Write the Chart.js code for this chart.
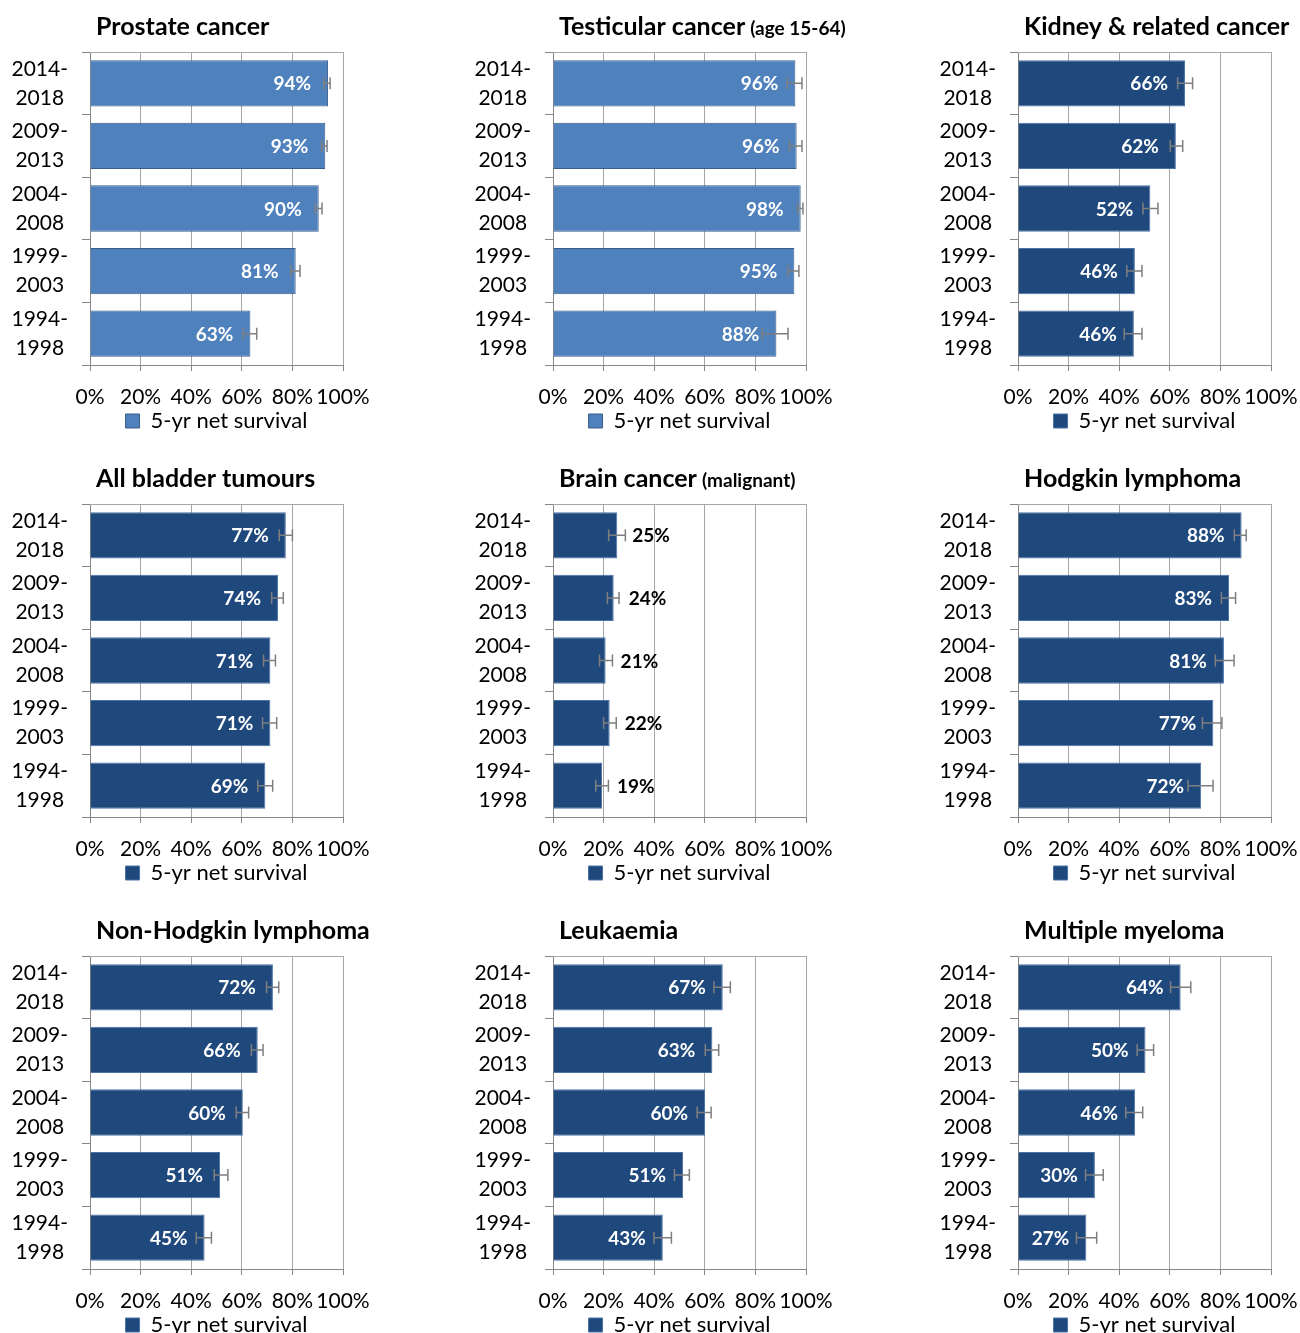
<!DOCTYPE html>
<html>
<head>
<meta charset="utf-8">
<script src="https://cdn.jsdelivr.net/npm/chart.js@4.4.1/dist/chart.umd.min.js"></script>
<style>
  html, body { margin: 0; padding: 0; background: #fff; overflow: hidden; }
  #wrap { position: relative; width: 1300px; height: 1333px; overflow: hidden; }
  .panel { position: absolute; }
</style>
</head>
<body>
<div id="wrap"></div>
<script>
// periods (top to bottom) and axis ticks
const periods = [["2014-", "2018"], ["2009-", "2013"], ["2004-", "2008"], ["1999-", "2003"], ["1994-", "1998"]];
const xTicks = [0, 20, 40, 60, 80, 100];
const legendLabel = "5-yr net survival";

// 5-yr net survival (%) with lower / upper confidence limits
const prostate = [94.1, 93.0, 90.4, 81.3, 63.4];
const prostateLow = [92.4, 91.6, 89.1, 79.4, 60.6];
const prostateHigh = [94.9, 93.7, 91.7, 83.0, 65.9];

const testicular = [95.8, 96.3, 97.9, 95.4, 88.3];
const testicularLow = [92.6, 93.5, 96.8, 93.0, 82.7];
const testicularHigh = [98.4, 98.4, 98.8, 97.2, 92.9];

const kidney = [66.0, 62.4, 52.3, 46.2, 45.8];
const kidneyLow = [63.1, 60.2, 49.4, 43.0, 42.0];
const kidneyHigh = [69.0, 65.1, 55.3, 49.0, 49.0];

const bladder = [77.4, 74.3, 71.3, 71.3, 69.3];
const bladderLow = [74.8, 71.8, 68.6, 68.2, 66.3];
const bladderHigh = [80.0, 76.4, 73.3, 73.8, 72.2];

const brain = [25.4, 24.0, 20.8, 22.4, 19.4];
const brainLow = [22.0, 21.5, 18.4, 20.0, 16.9];
const brainHigh = [28.6, 26.1, 23.5, 25.0, 21.9];

const hodgkin = [88.4, 83.4, 81.4, 77.2, 72.4];
const hodgkinLow = [85.5, 80.4, 78.0, 72.9, 67.2];
const hodgkinHigh = [90.2, 86.0, 85.4, 80.6, 77.1];

const nhl = [72.3, 66.3, 60.4, 51.4, 45.3];
const nhlLow = [69.8, 63.8, 57.8, 49.1, 42.0];
const nhlHigh = [74.6, 68.4, 62.7, 54.5, 48.0];

const leukaemia = [67.1, 63.0, 60.1, 51.4, 43.4];
const leukaemiaLow = [63.6, 60.2, 57.0, 48.0, 39.9];
const leukaemiaHigh = [70.1, 65.5, 62.5, 53.9, 46.8];

const myeloma = [64.3, 50.4, 46.3, 30.4, 27.0];
const myelomaLow = [60.3, 47.1, 42.6, 26.7, 23.1];
const myelomaHigh = [68.3, 53.6, 49.3, 33.7, 31.1];

const LIGHT = { fill: "#4F81BD", border: "#385D8A" };
const DARK = { fill: "#1F497D", border: "#4A72A8" };
const FONT = "Lato, 'Open Sans', sans-serif";

const panels = [
  { title: "Prostate cancer", sub: "", values: prostate, low: prostateLow, high: prostateHigh, col: LIGHT },
  { title: "Testicular cancer", sub: "(age 15-64)", values: testicular, low: testicularLow, high: testicularHigh, col: LIGHT },
  { title: "Kidney & related cancer", sub: "", values: kidney, low: kidneyLow, high: kidneyHigh, col: DARK },
  { title: "All bladder tumours", sub: "", values: bladder, low: bladderLow, high: bladderHigh, col: DARK },
  { title: "Brain cancer", sub: "(malignant)", values: brain, low: brainLow, high: brainHigh, col: DARK, outside: true },
  { title: "Hodgkin lymphoma", sub: "", values: hodgkin, low: hodgkinLow, high: hodgkinHigh, col: DARK },
  { title: "Non-Hodgkin lymphoma", sub: "", values: nhl, low: nhlLow, high: nhlHigh, col: DARK },
  { title: "Leukaemia", sub: "", values: leukaemia, low: leukaemiaLow, high: leukaemiaHigh, col: DARK },
  { title: "Multiple myeloma", sub: "", values: myeloma, low: myelomaLow, high: myelomaHigh, col: DARK },
];

const colLeft = [0, 463, 928];
const rowTop = [0, 452, 904];
const W = 440, H = 452;

// title, frame, error bars and value labels
const extras = {
  id: "extras",
  beforeDatasetsDraw(chart) {
    const { ctx, chartArea: a } = chart;
    ctx.save();
    ctx.strokeStyle = "#A6A6A6";
    ctx.lineWidth = 1;
    ctx.beginPath();
    ctx.moveTo(a.left, a.top + 0.5);
    ctx.lineTo(a.right, a.top + 0.5);
    ctx.stroke();
    ctx.restore();
  },
  afterDatasetsDraw(chart, args, opts) {
    const { ctx } = chart;
    const p = opts.panel;
    const x = chart.scales.x;
    const meta = chart.getDatasetMeta(0);
    ctx.save();
    meta.data.forEach((bar, i) => {
      const x0 = x.getPixelForValue(p.low[i]);
      const x1 = x.getPixelForValue(p.high[i]);
      ctx.strokeStyle = "#7F7F7F";
      ctx.lineWidth = 1.5;
      ctx.beginPath();
      ctx.moveTo(x0, bar.y); ctx.lineTo(x1, bar.y);
      ctx.moveTo(x0, bar.y - 6); ctx.lineTo(x0, bar.y + 6);
      ctx.moveTo(x1, bar.y - 6); ctx.lineTo(x1, bar.y + 6);
      ctx.stroke();

      const txt = Math.round(p.values[i]) + "%";
      ctx.font = "bold 19px " + FONT;
      ctx.textBaseline = "middle";
      if (p.outside) {
        ctx.fillStyle = "#000";
        ctx.textAlign = "left";
        ctx.fillText(txt, bar.x + 15, bar.y + 1);
      } else {
        ctx.fillStyle = "#fff";
        ctx.textAlign = "right";
        ctx.fillText(txt, bar.x - 17, bar.y + 1);
      }
    });
    ctx.restore();
  },
  afterDraw(chart, args, opts) {
    const { ctx, chartArea: a } = chart;
    const p = opts.panel;
    ctx.save();
    ctx.fillStyle = "#000";
    ctx.textBaseline = "middle";
    ctx.textAlign = "left";
    ctx.font = "bold 25px " + FONT;
    const tx = a.left + 6;
    ctx.fillText(p.title, tx, 27);
    if (p.sub) {
      const w = ctx.measureText(p.title).width;
      ctx.font = "bold 19px " + FONT;
      ctx.fillText(p.sub, tx + w + 5, 29);
    }
    ctx.restore();
  },
};

panels.forEach((p, k) => {
  const div = document.createElement("div");
  div.className = "panel";
  div.style.left = colLeft[k % 3] + "px";
  div.style.top = rowTop[Math.floor(k / 3)] + "px";
  const cv = document.createElement("canvas");
  cv.width = W; cv.height = H;
  cv.style.width = W + "px"; cv.style.height = H + "px";
  div.appendChild(cv);
  document.getElementById("wrap").appendChild(div);

  new Chart(cv, {
    type: "bar",
    data: {
      labels: periods,
      datasets: [{
        label: legendLabel,
        data: p.values,
        backgroundColor: p.col.fill,
        borderColor: p.col.border,
        borderWidth: 1,
        categoryPercentage: 1,
        barPercentage: 0.74,
      }],
    },
    plugins: [extras],
    options: {
      indexAxis: "y",
      responsive: false,
      animation: false,
      events: [],
      layout: { padding: { top: 52, right: W - 343, left: 0, bottom: 10 } },
      scales: {
        x: {
          min: 0, max: 100,
          afterBuildTicks: (s) => { s.ticks = xTicks.map((v) => ({ value: v })); },
          afterFit: (s) => { s.height = 41; s.paddingLeft = 0; s.paddingRight = 0; },
          grid: { color: "#A6A6A6", tickLength: 6, tickColor: "#868686" },
          border: { color: "#868686" },
          ticks: {
            autoSkip: false, maxRotation: 0, padding: 14, color: "#000",
            font: { family: FONT, size: 21 },
            callback: (v) => v + "%",
          },
        },
        y: {
          afterFit: (s) => { s.width = 90; },
          grid: { offset: true, drawOnChartArea: false, tickLength: 8, color: "#868686" },
          border: { color: "#868686" },
          ticks: {
            crossAlign: "center", padding: 14, color: "#000",
            font: { family: FONT, size: 21, lineHeight: 1.38 },
          },
        },
      },
      plugins: {
        extras: { panel: p },
        tooltip: { enabled: false },
        legend: {
          position: "bottom", fullSize: false,
          labels: {
            boxWidth: 14, boxHeight: 14, padding: 4, color: "#000",
            font: { family: FONT, size: 22 },
          },
        },
      },
    },
  });
});
</script>
</body>
</html>
